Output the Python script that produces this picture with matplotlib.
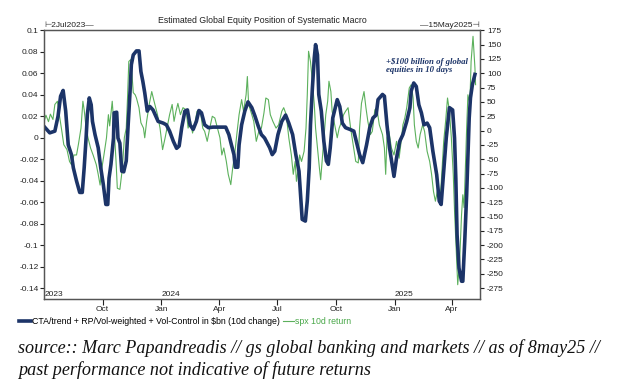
import numpy as np
import pandas as pd
import matplotlib
matplotlib.use('Agg')
import matplotlib.pyplot as plt
from matplotlib.ticker import FuncFormatter

plt.rcParams['font.family'] = ['Liberation Sans', 'DejaVu Sans']
plt.rcParams['axes.unicode_minus'] = False

START = pd.Timestamp('2023-07-01')

# CTA/trend + RP + vol-control, $bn 10d change (right axis), days after START
flow_day = [1, 9, 17, 22, 26, 30, 34, 38, 43, 46,
            51, 56, 60, 63, 66, 68, 71, 74, 76, 80,
            85, 89, 93, 97, 100, 102, 105, 109, 110, 114,
            116, 119, 122, 125, 129, 132, 135, 137, 140, 145,
            149, 152, 155, 158, 162, 166, 171, 179, 187, 192,
            197, 203, 208, 212, 216, 221, 225, 229, 234, 239,
            243, 247, 252, 258, 265, 276, 285, 290, 294, 298,
            300, 304, 306, 310, 315, 320, 326, 331, 336, 341,
            346, 354, 358, 362, 367, 373, 379, 384, 390, 395,
            400, 403, 405, 410, 413, 416, 418, 421, 424, 426,
            429, 431, 435, 439, 443, 446, 449, 453, 460, 464,
            468, 473, 480, 486, 490, 495, 500, 506, 511, 516,
            521, 524, 531, 534, 538, 542, 547, 549, 553, 558,
            563, 569, 574, 576, 580, 584, 588, 592, 596, 601,
            605, 610, 616, 620, 623, 627, 631, 636, 641, 644,
            646, 648, 651, 655, 657, 660, 663, 665, 667, 669,
            672, 676]
flow_bn = [6, -4, -1, 25, 60, 70, 34, -25, -42, -65,
           -88, -108, -108, -65, -13, 28, 57, 45, 16, -7,
           -30, -65, -94, -129, -129, -83, -59, -13, 31, 32,
           -13, -22, -71, -72, -53, 10, 69, 115, 132, 139,
           139, 103, 86, 66, 34, 42, 36, 16, 13, 10,
           -1, -19, -31, -27, 5, 34, 36, 10, 2, 16,
           35, 31, 10, 5, 6, 6, 6, -7, -25, -42,
           -64, -64, -25, 10, 34, 50, 40, 25, 8, -7,
           -13, -30, -42, -36, -7, 16, 27, 13, -7, -42,
           -71, -123, -155, -158, -123, -65, 10, 74, 127, 150,
           132, 63, 34, -19, -53, -59, -30, 22, 54, 42,
           13, 5, 2, -1, -19, -42, -56, -25, 5, 22,
           27, 54, 63, 60, 10, -30, -65, -80, -48, -19,
           -7, 16, 40, 69, 83, 77, 45, 31, 10, 13,
           5, -36, -77, -123, -129, -71, -13, 40, 36, -13,
           -83, -182, -240, -263, -263, -193, -112, -42, 22, 57,
           80, 98]

# spx 10d return (left axis)
spx_day = [1, 3, 7, 10, 14, 17, 21, 24, 28, 31,
           36, 40, 43, 47, 51, 54, 58, 61, 63, 66,
           69, 73, 77, 82, 85, 88, 90, 94, 98, 101,
           103, 107, 110, 113, 115, 119, 123, 126, 129, 131,
           133, 136, 138, 140, 143, 145, 149, 152, 156, 158,
           161, 165, 169, 172, 178, 182, 186, 190, 193, 197,
           201, 204, 207, 210, 214, 218, 223, 226, 230, 233,
           237, 240, 245, 249, 252, 256, 260, 264, 268, 272,
           276, 279, 282, 286, 289, 293, 296, 299, 303, 306,
           310, 313, 317, 319, 321, 326, 329, 333, 337, 341,
           345, 348, 352, 355, 359, 364, 368, 373, 376, 380,
           384, 388, 391, 394, 396, 399, 401, 404, 408, 411,
           413, 415, 418, 421, 424, 426, 429, 432, 434, 437,
           439, 442, 445, 447, 450, 452, 456, 460, 463, 467,
           470, 473, 477, 481, 485, 489, 493, 495, 498, 502,
           505, 508, 512, 515, 519, 522, 526, 531, 534, 536,
           538, 541, 545, 549, 553, 557, 561, 563, 566, 569,
           573, 576, 579, 581, 584, 587, 590, 594, 597, 601,
           605, 608, 611, 614, 618, 621, 623, 627, 630, 633,
           636, 639, 642, 644, 647, 649, 652, 655, 657, 659,
           661, 663, 665, 668, 670, 673, 676, 677]
spx_ret = [0.017, 0.021, 0.015, 0.022, 0.017, 0.031, 0.034, 0.0215, 0.006, -0.0064,
           -0.011, -0.022, -0.025, -0.016, -0.016, -0.006, 0.009, 0.034, 0.026, 0.009,
           0.0, -0.0095, -0.016, -0.025, -0.034, -0.044, -0.031, -0.016, 0.0, 0.0215,
           0.011, 0.034, 0.009, -0.022, -0.047, -0.048, -0.028, 0.0, 0.009, 0.037,
           0.071, 0.0727, 0.059, 0.042, 0.040, 0.037, 0.028, 0.014, 0.009, 0.0,
           0.0153, 0.031, 0.043, 0.0355, 0.0215, 0.009, -0.011, 0.0, 0.009, 0.0215,
           0.031, 0.0153, 0.0246, 0.032, 0.0215, 0.028, 0.026, 0.009, 0.0153, 0.0044,
           0.014, 0.0246, 0.026, 0.009, 0.006, -0.0033, 0.009, 0.02, 0.0184, 0.009,
           0.0, -0.016, -0.0095, -0.022, -0.034, -0.0436, -0.028, -0.016, 0.006, 0.0215,
           0.0355, 0.0246, 0.040, 0.057, 0.031, 0.0215, 0.0153, -0.0033, 0.006, 0.009,
           0.023, 0.037, 0.0355, 0.0215, 0.0153, 0.009, 0.012, 0.0246, 0.028, 0.0215,
           0.0, -0.016, -0.034, -0.022, -0.0405, -0.028, -0.016, -0.022, -0.0126, 0.009,
           0.040, 0.0805, 0.071, 0.0526, 0.031, 0.009, -0.0095, -0.028, -0.039, -0.016,
           0.0, 0.0215, 0.034, 0.0526, 0.043, 0.0246, 0.012, 0.0, 0.009, 0.0153,
           0.0215, 0.0246, 0.028, 0.009, -0.0064, -0.022, -0.0234, 0.009, 0.032, 0.043,
           0.028, 0.0153, 0.003, 0.006, 0.026, 0.028, 0.012, 0.003, -0.0095, -0.034,
           0.0, 0.006, -0.0095, -0.016, -0.0033, -0.019, 0.0, 0.012, 0.0184, 0.028,
           0.0463, 0.0494, 0.037, 0.012, -0.0033, -0.0095, 0.003, 0.012, 0.006, -0.0126,
           -0.022, -0.034, -0.05, -0.059, -0.0467, -0.059, -0.0436, -0.0033, 0.0153, 0.037,
           0.0246, 0.0, -0.034, -0.068, -0.1088, -0.1367, -0.115, -0.0715, -0.053, -0.065,
           -0.028, 0.009, 0.040, 0.031, 0.071, 0.0944, 0.065, 0.0494]

month_ticks = ['2023-10-01', '2024-01-01', '2024-04-01', '2024-07-01',
               '2024-10-01', '2025-01-01', '2025-04-01']
month_labels = ['Oct', 'Jan', 'Apr', 'Jul', 'Oct', 'Jan', 'Apr']
year_pos = ['2023-07-02', '2024-01-01', '2025-01-01']
year_labels = ['2023', '2024', '2025']

flow_dates = START + pd.to_timedelta(flow_day, unit='D')
spx_dates = START + pd.to_timedelta(spx_day, unit='D')

navy = '#1c3468'
green = '#4aa84a'
grey = '#555555'

fig = plt.figure(figsize=(6.27, 3.81), dpi=100)
ax = fig.add_axes([0.0702, 0.2152, 0.6954, 0.7053])
ax2 = ax.twinx()

l_spx, = ax.plot(spx_dates, spx_ret, color=green, lw=0.8, alpha=0.9)
l_flow, = ax2.plot(flow_dates, flow_bn, color=navy, lw=2.6, solid_joinstyle='round')

ax.set_xlim(pd.Timestamp('2023-07-01'), pd.Timestamp('2025-05-15'))
ax.set_ylim(-0.15, 0.1)
ax2.set_ylim(-294, 175)

ax.set_yticks(np.arange(-0.14, 0.1001, 0.02))
ax.yaxis.set_major_formatter(FuncFormatter(lambda v, p: f'{round(v, 2) + 0:g}'))
ax2.set_yticks(np.arange(-275, 176, 25))
ax.set_xticks(pd.to_datetime(month_ticks))
ax.set_xticklabels(month_labels)

ax.tick_params(axis='y', direction='out', length=3, width=0.8, labelsize=6, pad=1, colors='#222222')
ax2.tick_params(axis='y', direction='out', length=3, width=0.8, labelsize=6, pad=2, colors='#222222')
ax.tick_params(axis='x', direction='out', length=4, width=0.8, labelsize=6, pad=1, colors='#222222')
for a in (ax, ax2):
    for s in a.spines.values():
        s.set_color(grey)
        s.set_linewidth(0.9)

for d, t in zip(year_pos, year_labels):
    ax.text(pd.Timestamp(d), 0.005, t, transform=ax.get_xaxis_transform(),
            ha='left', va='bottom', fontsize=6, color='#222222')

ax.text(0.0, 1.004, '\u22a22Jul2023\u2014', transform=ax.transAxes,
        ha='left', va='bottom', fontsize=6, color='#222222')
ax.text(1.0, 1.004, '\u201415May2025\u22a3', transform=ax.transAxes,
        ha='right', va='bottom', fontsize=6, color='#222222')
fig.text(0.418, 0.935, 'Estimated Global Equity Position of Systematic Macro',
         ha='center', va='bottom', fontsize=6.3, color='#222222')

ax2.text(pd.Timestamp('2024-12-19'), 113, '+$100 billion of global\nequities in 10 days',
         ha='left', va='center', fontsize=6.3, color=navy, fontweight='bold',
         fontstyle='italic', family='Liberation Serif', linespacing=1.1)

leg = fig.legend([l_flow, l_spx],
                 ['CTA/trend + RP/Vol-weighted + Vol-Control in $bn (10d change)', 'spx 10d return'],
                 loc='center left', bbox_to_anchor=(0.031, 1 - 322 / 381), ncol=2,
                 frameon=False, fontsize=6.3, handlelength=1.3, handletextpad=0.1,
                 columnspacing=0.4, borderpad=0, borderaxespad=0)
leg.get_texts()[1].set_color(green)

fig.text(18 / 627, 1 - 348 / 381,
         'source:: Marc Papandreadis // gs global banking and markets // as of 8may25 //',
         ha='left', va='center', fontsize=13.1, fontstyle='italic',
         family='Liberation Serif', color='#111111')
fig.text(18 / 627, 1 - 370 / 381, 'past performance not indicative of future returns',
         ha='left', va='center', fontsize=13.1, fontstyle='italic',
         family='Liberation Serif', color='#111111')

fig.savefig('out.png', dpi=100)
